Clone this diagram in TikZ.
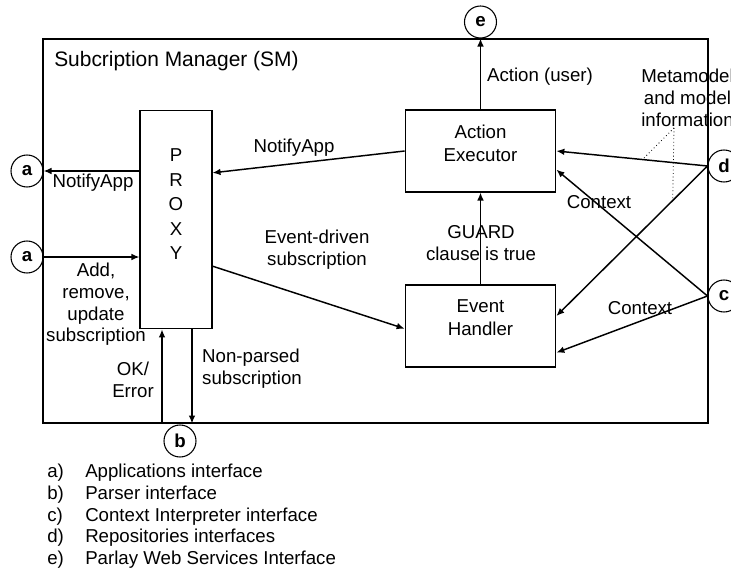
\documentclass[tikz,border=0pt]{standalone}
\usepackage{fontspec}
\setmainfont{Liberation Sans}
\usetikzlibrary{arrows.meta,calc}
\tikzset{
    every node/.style={align=center, font=\fontsize{14pt}{16.3pt}\selectfont,},
    block/.style={draw, rectangle, line width=0.8pt, minimum width=113pt, minimum height=61.5pt, text depth=12pt, font=\fontsize{14pt}{17.25pt}\selectfont,},
    port/.style={draw, circle, line width=0.8pt, minimum size=24pt, inner sep=0pt, font=\fontsize{14pt}{16.3pt}\selectfont\bfseries,},
    flow/.style={line width=1.1pt, -{Latex[length=6pt,width=5pt]},},
    pointer/.style={dotted, line width=0.6pt,},
    legend/.style={anchor=west, align=left, inner xsep=0pt,},
}

\begin{document}
\begin{tikzpicture}[x=0.75pt, y=-0.75pt]
                \useasboundingbox (0,0) rectangle (731,574);

                \node[draw, line width=0.8pt, minimum width=498.75pt, minimum height=288pt] (sm) at (375.5,231) {};
                \node[anchor=west, inner xsep=0pt, font=\fontsize{15.7pt}{18pt}\selectfont] (sm_title) at (54,61) {Subcription Manager (SM)};

                \node[draw, line width=0.8pt, minimum width=54pt, minimum height=164pt, text depth=23pt, font=\fontsize{14pt}{18.4pt}\selectfont] (proxy) at (176,219.5) {P\\R\\O\\X\\Y};
                \node[block] (executor) at (480.5,151) {Action\\Executor};
                \node[block] (handler) at (480.5,326) {Event\\Handler};

                \node[port] (app_out) at (27,171) {a};
                \node[port] (app_in) at (27,257) {a};
                \node[port] (parser) at (180,441) {b};
                \node[port] (context) at (724,296) {c};
                \node[port] (repos) at (724,166) {d};
                \node[port] (parlay) at (480.5,22) {e};

                \draw[flow] (proxy.west |- app_out) -- (app_out);
                \draw[flow] (app_in) -- (app_in -| proxy.west);
                \draw[flow] (executor.west) -- ([yshift=35pt]proxy.east);
                \draw[flow] ([yshift=-35pt]proxy.east) -- ([yshift=-2pt]handler.west);
                \draw[flow] ([xshift=-10.5pt]proxy.south |- sm.south) -- ([xshift=-10.5pt]proxy.south);
                \draw[flow] ([xshift=12pt]proxy.south) -- ([xshift=12pt]proxy.south |- sm.south);
                \draw[flow] (executor.north) -- (parlay);
                \draw[flow] (handler.north) -- (executor.south);
                \draw[flow] (repos.west) -- (executor.east);
                \draw[flow] (repos.west) -- ([yshift=7.5pt]handler.east);
                \draw[flow] (context.west) -- ([yshift=-14pt]executor.east);
                \draw[flow] (context.west) -- ([yshift=-20pt]handler.east);

                \node (notify_out) at (93,183) {NotifyApp};
                \node (notify_in) at (294,148) {NotifyApp};
                \node (add_remove) at (96,304.5) {Add,\\remove,\\update\\subscription};
                \node (event_sub) at (317,250) {Event-driven\\subscription};
                \node (ok_error) at (133,380) {OK/\\Error};
                \node[align=left] (non_parsed) at (252,369) {Non-parsed\\subscription};
                \node (action_user) at (540,77) {Action (user)};
                \node (guard) at (481,243) {GUARD\\clause is true};
                \node (context_up) at (599,202) {Context};
                \node (context_low) at (640,308) {Context};
                \node (meta_info) at (687.5,98) {Metamodel\\and model\\information};

                \coordinate (meta_tip) at (674,128);
                \draw[pointer] (meta_tip) -- ($(repos.west)!0.43!(executor.east)$);
                \draw[pointer] (meta_tip) -- ($(repos.west)!0.23!([yshift=7.5pt]handler.east)$);

                \node[legend] (leg_a) at (47,473) {\makebox[28.5pt][l]{a)}Applications interface};
                \node[legend] (leg_b) at (47,495) {\makebox[28.5pt][l]{b)}Parser interface};
                \node[legend] (leg_c) at (47,517) {\makebox[28.5pt][l]{c)}Context Interpreter interface};
                \node[legend] (leg_d) at (47,538) {\makebox[28.5pt][l]{d)}Repositories interfaces};
                \node[legend] (leg_e) at (47,560) {\makebox[28.5pt][l]{e)}Parlay Web Services Interface};
            \end{tikzpicture}
\end{document}
